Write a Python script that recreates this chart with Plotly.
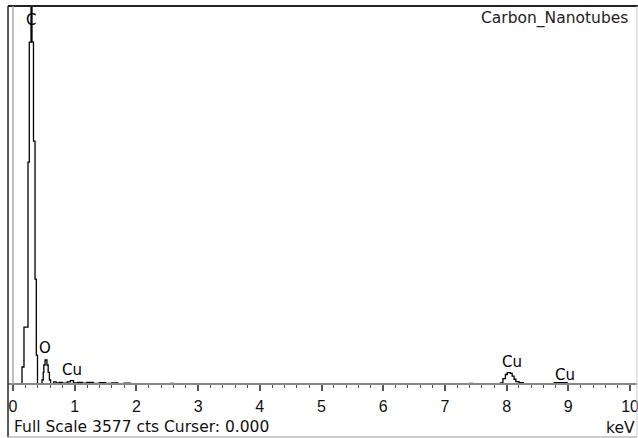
import plotly.graph_objects as go

# ---- data ----
energy_kev = [0.00, 0.146, 0.178, 0.243, 0.264, 0.292, 0.308, 0.332, 0.357, 0.378, 0.397,
              0.47, 0.49, 0.50, 0.52, 0.55, 0.57, 0.59, 0.61,
              0.66, 0.70, 0.75, 0.80, 0.88, 0.93, 0.98, 1.05, 1.12, 1.20, 1.30, 1.40,
              1.50, 1.60, 1.70, 1.80, 1.90, 2.55, 2.60, 7.40, 7.45,
              7.90, 7.94, 7.98, 8.01, 8.06, 8.09, 8.12, 8.15, 8.20, 8.27,
              8.77, 8.98, 10.2]
counts = [0, 161, 539, 2100, 3235, 3577, 3235, 2299, 993, 274, 0,
          38, 110, 180, 227, 180, 110, 38, 0,
          20, 10, 15, 8, 20, 32, 10, 15, 8, 14, 6, 12,
          5, 10, 4, 9, 0, 6, 0, 6, 0,
          10, 50, 90, 107, 100, 75, 45, 22, 12, 0,
          12, 0, 0]

peak_labels = ["C", "O", "Cu", "Cu", "Cu"]
peak_energy = [0.29, 0.52, 0.95, 8.08, 8.945]
peak_label_counts = [3440, 341, 132, 211, 85]

tick_values = [0, 1, 2, 3, 4, 5, 6, 7, 8, 9, 10]
tick_labels = ["0", "1", "2", "3", "4", "5", "6", "7", "8", "9", "10"]

full_scale = 3577
title_text = "Carbon_Nanotubes"
footer_text = "Full Scale 3577 cts Curser: 0.000"
unit_text = "keV"

FONT = "DejaVu Sans"
TICK_FONT = "Liberation Sans"

fig = go.Figure()
fig.add_trace(go.Scatter(
    x=energy_kev, y=counts, mode="lines", line=dict(color="black", width=1.3, shape="hv"),
    hoverinfo="skip", showlegend=False))

for lab, ex, cy in zip(peak_labels, peak_energy, peak_label_counts):
    fig.add_annotation(x=ex, y=cy, text=lab, showarrow=False, xref="x", yref="y",
                       font=dict(family=FONT, size=15, color="black"))

base_pos = (437 - 384) / 431

fig.add_annotation(x=0.989, y=0.970, xref="paper", yref="paper", text=title_text,
                   showarrow=False, xanchor="right", yanchor="middle",
                   font=dict(family=FONT, size=15.5, color="#222"))
fig.add_annotation(x=0.0064, y=0.024, xref="paper", yref="paper", text=footer_text,
                   showarrow=False, xanchor="left", yanchor="middle",
                   font=dict(family=FONT, size=15.5, color="#111"))
fig.add_annotation(x=1.0, y=0.02, xref="paper", yref="paper", text=unit_text,
                   showarrow=False, xanchor="right", yanchor="middle",
                   font=dict(family=FONT, size=15.5, color="#111"))

# frame and cursor
fig.add_shape(type="line", xref="paper", yref="paper", x0=0, x1=0, y0=0, y1=1,
              line=dict(color="#222", width=1.5))
fig.add_shape(type="line", xref="paper", yref="paper", x0=0, x1=1.01, y0=1, y1=1,
              line=dict(color="#222", width=2))
fig.add_shape(type="line", xref="paper", yref="paper", x0=0, x1=1, y0=0, y1=0,
              line=dict(color="#999", width=1))
fig.add_shape(type="line", xref="paper", yref="paper", x0=1, x1=1, y0=0, y1=1,
              line=dict(color="#ccc", width=1))
fig.add_shape(type="line", xref="x", yref="paper", x0=0, x1=0, y0=base_pos, y1=1,
              line=dict(color="#aaa", width=1.5))

fig.update_layout(
    width=638, height=438,
    margin=dict(l=8, r=1, t=6, b=1, autoexpand=False),
    paper_bgcolor="white", plot_bgcolor="white",
    xaxis=dict(range=[-0.081, 10.113], anchor="free", position=base_pos, automargin=False,
               showgrid=False, zeroline=False, showline=True, linecolor="#888", linewidth=2,
               ticks="outside", ticklen=6, tickwidth=1.5, tickcolor="#555",
               tickvals=tick_values, ticktext=tick_labels, ticklabelstandoff=2,
               ticklabeloverflow="allow",
               tickfont=dict(family=TICK_FONT, size=16, color="#111"),
               minor=dict(dtick=0.2, ticks="outside", ticklen=3, tickwidth=1.2,
                          tickcolor="#555", showgrid=False)),
    yaxis=dict(range=[-501.5, full_scale], visible=False, showgrid=False, zeroline=False,
               automargin=False),
)

fig.write_html("out.html", config={"displayModeBar": False},
               post_script="document.body.style.margin='0';")
